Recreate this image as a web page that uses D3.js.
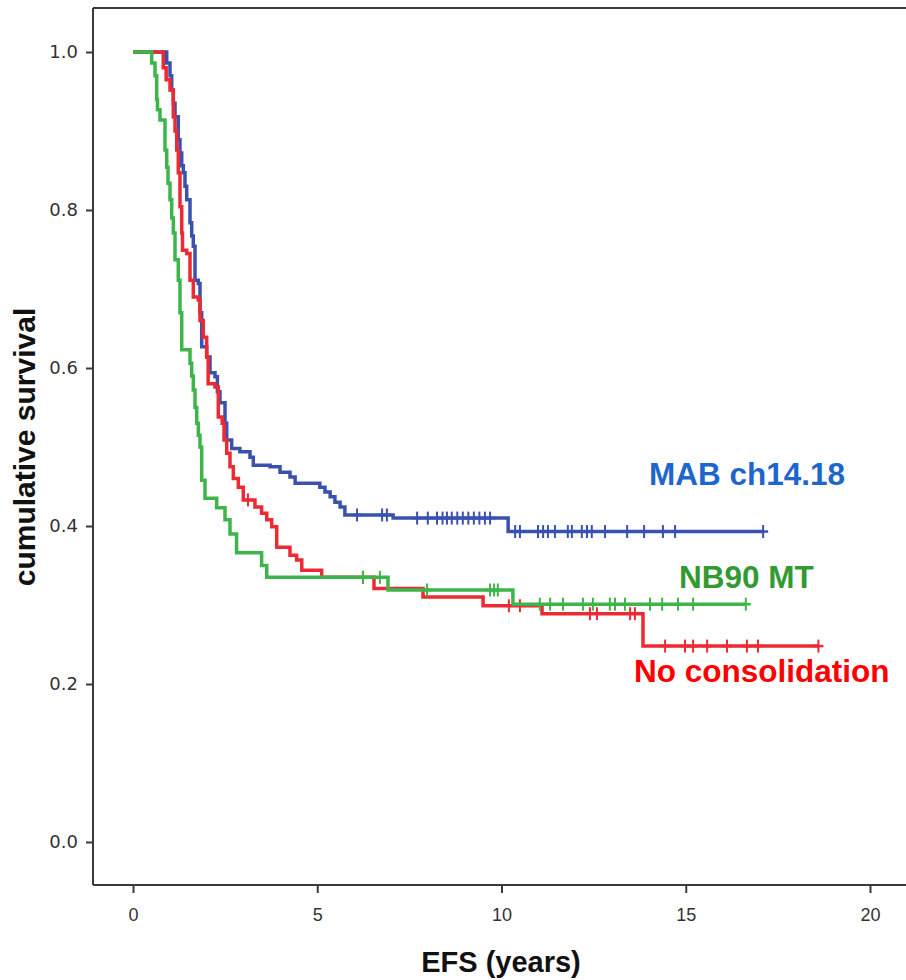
<!DOCTYPE html>
<html>
<head>
<meta charset="utf-8">
<script src="https://cdn.jsdelivr.net/npm/d3@7"></script>
<style>
  html, body { margin: 0; padding: 0; background: #fff; }
  svg { display: block; }
</style>
</head>
<body>
<svg id="chart" width="906" height="980"></svg>
<script>
// ---------- data ----------
const xTicks = [0, 5, 10, 15, 20];
const yTicks = [0.0, 0.2, 0.4, 0.6, 0.8, 1.0];
const xTitle = "EFS (years)";
const yTitle = "cumulative survival";

// MAB ch14.18 (blue)
const mabTimes = [0, 0.915, 1.004, 1.05, 1.094, 1.14, 1.229, 1.275, 1.322, 1.365, 1.411, 1.457, 1.547, 1.593, 1.636, 1.683, 1.772, 1.818, 1.864, 2.0, 2.09, 2.225, 2.29, 2.36, 2.497, 2.543, 2.678, 2.9, 3.175, 3.265, 3.72, 3.99, 4.26, 4.4, 5.07, 5.21, 5.35, 5.48, 5.62, 5.75, 7.06, 10.18, 17.1];
const mabSurv  = [1.0, 0.986, 0.97, 0.952, 0.935, 0.918, 0.889, 0.872, 0.856, 0.847, 0.83, 0.813, 0.784, 0.767, 0.754, 0.711, 0.707, 0.67, 0.627, 0.614, 0.594, 0.589, 0.57, 0.556, 0.53, 0.509, 0.498, 0.494, 0.487, 0.477, 0.475, 0.468, 0.462, 0.454, 0.449, 0.443, 0.437, 0.43, 0.424, 0.414, 0.41, 0.393, 0.393];
const mabCensor = [6.08, 6.76, 6.89, 7.71, 8.0, 8.25, 8.4, 8.52, 8.65, 8.8, 8.95, 9.1, 9.25, 9.4, 9.55, 9.69, 10.37, 10.5, 10.99, 11.13, 11.26, 11.45, 11.8, 11.91, 12.18, 12.32, 12.45, 12.81, 13.41, 13.87, 14.38, 14.71, 17.1];

// NB90 MT (green)
const nbTimes = [0, 0.507, 0.597, 0.643, 0.665, 0.733, 0.868, 0.915, 0.95, 1.004, 1.05, 1.094, 1.14, 1.229, 1.275, 1.322, 1.547, 1.593, 1.636, 1.683, 1.729, 1.772, 1.818, 1.864, 1.954, 2.271, 2.497, 2.632, 2.81, 3.49, 3.63, 6.92, 10.31, 16.63];
const nbSurv  = [1.0, 0.986, 0.97, 0.94, 0.927, 0.914, 0.876, 0.854, 0.834, 0.813, 0.79, 0.771, 0.737, 0.711, 0.67, 0.623, 0.606, 0.59, 0.572, 0.55, 0.53, 0.515, 0.5, 0.458, 0.435, 0.423, 0.408, 0.39, 0.366, 0.35, 0.335, 0.319, 0.301, 0.301];
const nbCensor = [6.24, 6.7, 7.98, 9.69, 9.8, 9.9, 11.04, 11.32, 11.67, 12.21, 12.48, 12.94, 13.08, 13.35, 14.03, 14.36, 14.79, 15.2, 16.63];

// No consolidation (red)
const noTimes = [0, 0.822, 0.9, 1.004, 1.094, 1.14, 1.186, 1.229, 1.275, 1.322, 1.343, 1.457, 1.547, 1.636, 1.772, 1.818, 1.908, 2.0, 2.04, 2.225, 2.315, 2.42, 2.47, 2.543, 2.632, 2.722, 2.858, 2.993, 3.31, 3.49, 3.63, 3.764, 3.9, 4.26, 4.44, 4.58, 5.12, 6.54, 7.87, 9.5, 11.1, 13.84, 18.6];
const noSurv  = [1.0, 0.98, 0.965, 0.952, 0.918, 0.9, 0.876, 0.847, 0.804, 0.771, 0.749, 0.745, 0.711, 0.69, 0.686, 0.66, 0.639, 0.614, 0.58, 0.576, 0.538, 0.53, 0.509, 0.492, 0.475, 0.46, 0.449, 0.433, 0.424, 0.416, 0.408, 0.399, 0.373, 0.363, 0.357, 0.344, 0.335, 0.321, 0.31, 0.299, 0.289, 0.248, 0.248];
const noCensor = [3.12, 6.24, 10.2, 10.5, 12.4, 12.59, 13.49, 13.62, 14.44, 14.98, 15.2, 15.58, 16.12, 16.66, 16.96, 18.6];

const seriesNames = ["MAB ch14.18", "No consolidation", "NB90 MT"];

// ---------- styles ----------
const series = [
  { name: seriesNames[0], times: mabTimes, surv: mabSurv, censor: mabCensor, line: "#3a52ae", label: "#1d66cc", lx: 649, ly: 485 },
  { name: seriesNames[1], times: noTimes,  surv: noSurv,  censor: noCensor,  line: "#ec2a34", label: "#ff0000", lx: 634, ly: 682 },
  { name: seriesNames[2], times: nbTimes,  surv: nbSurv,  censor: nbCensor,  line: "#3db54a", label: "#339933", lx: 679, ly: 588 }
];

const svg = d3.select("#chart");
svg.append("rect").attr("width", 906).attr("height", 980).attr("fill", "#fff");

const x = d3.scaleLinear().domain([0, 20]).range([133, 870]);
const y = d3.scaleLinear().domain([0, 1]).range([842, 52]);

const axisColor = "#3a3a3a";
const frameLeft = 93, frameTop = 8, frameBottom = 885, frameRight = 906;

// frame lines
svg.append("line").attr("x1", frameLeft).attr("x2", frameLeft).attr("y1", frameTop).attr("y2", frameBottom)
  .attr("stroke", axisColor).attr("stroke-width", 2);
svg.append("line").attr("x1", frameLeft).attr("x2", frameRight).attr("y1", frameBottom).attr("y2", frameBottom)
  .attr("stroke", axisColor).attr("stroke-width", 2);
svg.append("line").attr("x1", frameLeft).attr("x2", frameRight).attr("y1", frameTop).attr("y2", frameTop)
  .attr("stroke", axisColor).attr("stroke-width", 2);

// x axis
const gx = svg.append("g").attr("transform", `translate(0,${frameBottom})`)
  .call(d3.axisBottom(x).tickValues(xTicks).tickSize(8).tickPadding(15).tickFormat(d3.format("d")));
gx.select(".domain").remove();
gx.selectAll(".tick line").attr("stroke", axisColor).attr("stroke-width", 2);
gx.selectAll(".tick text").attr("fill", "#333").style("font-family", "'Liberation Sans', Arial, sans-serif").style("font-size", "18px");

// y axis
const gy = svg.append("g").attr("transform", `translate(${frameLeft},0)`)
  .call(d3.axisLeft(y).tickValues(yTicks).tickSize(7).tickPadding(8).tickFormat(d3.format(".1f")));
gy.select(".domain").remove();
gy.selectAll(".tick line").attr("stroke", axisColor).attr("stroke-width", 2);
gy.selectAll(".tick text").attr("fill", "#333").style("font-family", "'DejaVu Sans', Verdana, sans-serif").style("font-size", "18px");

// axis titles
svg.append("text").attr("x", 501).attr("y", 972).attr("text-anchor", "middle")
  .style("font-family", "'Liberation Sans', Arial, sans-serif").style("font-weight", "bold").style("font-size", "29px")
  .attr("fill", "#111").text(xTitle);
svg.append("text").attr("transform", "translate(35,447) rotate(-90)").attr("text-anchor", "middle")
  .style("font-family", "'Liberation Sans', Arial, sans-serif").style("font-weight", "bold").style("font-size", "30px")
  .attr("fill", "#111").text(yTitle);

// curves
const line = d3.line().x(d => x(d[0])).y(d => y(d[1])).curve(d3.curveStepAfter);
function survAt(s, t) {
  let v = s.surv[0];
  for (let i = 0; i < s.times.length; i++) { if (s.times[i] <= t) v = s.surv[i]; }
  return v;
}
series.forEach(s => {
  const pts = s.times.map((t, i) => [t, s.surv[i]]);
  const g = svg.append("g");
  g.append("path").datum(pts).attr("d", line).attr("fill", "none")
    .attr("stroke", s.line).attr("stroke-width", 3.5).attr("stroke-linejoin", "miter");
  g.selectAll("line.cv").data(s.censor).enter().append("line")
    .attr("x1", d => x(d)).attr("x2", d => x(d))
    .attr("y1", d => y(survAt(s, d)) - 6.5).attr("y2", d => y(survAt(s, d)) + 6.5)
    .attr("stroke", s.line).attr("stroke-width", 2);
  g.selectAll("line.ch").data(s.censor).enter().append("line")
    .attr("x1", d => x(d) - 5).attr("x2", d => x(d) + 5)
    .attr("y1", d => y(survAt(s, d))).attr("y2", d => y(survAt(s, d)))
    .attr("stroke", s.line).attr("stroke-width", 2.5);
});

// series labels
series.forEach(s => {
  svg.append("text").attr("x", s.lx).attr("y", s.ly)
    .style("font-family", "'Liberation Sans', Arial, sans-serif").style("font-weight", "bold").style("font-size", "31.5px")
    .attr("fill", s.label).text(s.name);
});
</script>
</body>
</html>
